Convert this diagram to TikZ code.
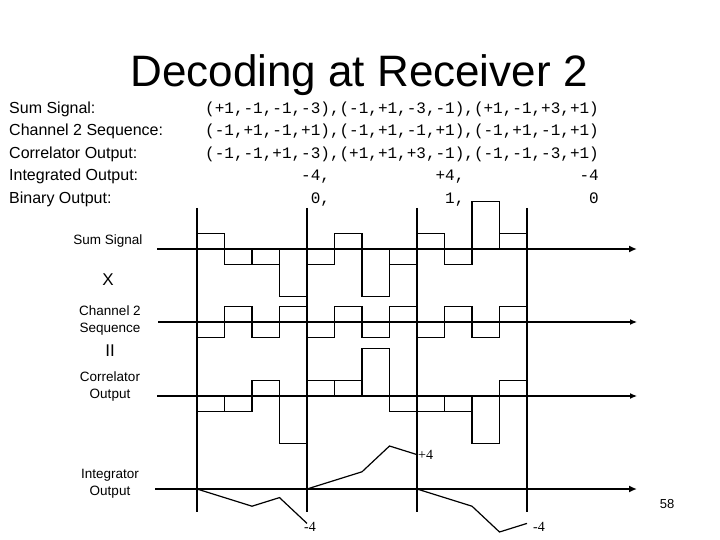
\documentclass[tikz,border=0pt]{standalone}
\usepackage{fontspec}
\setmainfont{Liberation Sans}
\setmonofont{Liberation Mono}
\newfontfamily\numfont{Liberation Serif}
\usepackage{tikz}
\usetikzlibrary{arrows.meta}
\tikzstyle{rowlabel} = [anchor=base west, inner sep=0pt, font=\fontsize{16}{18}\selectfont]
\tikzstyle{rowdata} = [anchor=base west, inner sep=0pt, font=\fontsize{16}{18}\selectfont\ttfamily]
\tikzstyle{sidelabel} = [align=center, inner sep=0pt, font=\fontsize{13.5}{17}\selectfont]
\tikzstyle{opsign} = [anchor=base, inner sep=0pt, font=\fontsize{17}{19}\selectfont]
\tikzstyle{levellabel} = [inner sep=0pt, font=\fontsize{14}{16}\selectfont\numfont]
\tikzstyle{wave} = [line width=1.2pt]
\tikzstyle{axis} = [line width=1.2pt, -{Latex[length=7pt, width=6pt]}]
\tikzstyle{boldaxis} = [line width=2.4pt, -{Latex[length=8pt, width=7pt]}]
\begin{document}
\begin{tikzpicture}[x=1pt, y=-1pt]
    \useasboundingbox (0,0) rectangle (720,540);

    % Title
    \node[anchor=base, inner sep=0pt, font=\fontsize{44}{48}\selectfont] (title) at (359,87) {Decoding at Receiver 2};

    % Table of values
    \node[rowlabel] (sumrow) at (9,113.5) {Sum Signal:};
    \node[rowlabel] (chanrow) at (9,136) {Channel 2 Sequence:};
    \node[rowlabel] (corrrow) at (9,158.5) {Correlator Output:};
    \node[rowlabel] (introw) at (9,181) {Integrated Output:};
    \node[rowlabel] (binrow) at (9,203.5) {Binary Output:};

    \node[rowdata] (sumdata) at (205,113.5) {(+1,-1,-1,-3),(-1,+1,-3,-1),(+1,-1,+3,+1)};
    \node[rowdata] (chandata) at (205,136) {(-1,+1,-1,+1),(-1,+1,-1,+1),(-1,+1,-1,+1)};
    \node[rowdata] (corrdata) at (205,158.5) {(-1,-1,+1,-3),(+1,+1,+3,-1),(-1,-1,-3,+1)};
    \node[rowdata] (intdata) at (205,181) {\hspace*{6em}-4,\hspace*{6.6em}+4,\hspace*{7.2em}-4};
    \node[rowdata] (bindata) at (205,203.5) {\hspace*{6.6em}0,\hspace*{7.2em}1,\hspace*{7.8em}0};

    % Side labels
    \node[sidelabel, anchor=base] (sumlbl) at (108,244) {Sum Signal};
    \node[opsign] (times) at (108,285) {X};
    \node[sidelabel] (chanlbl) at (110,321) {Channel 2\\Sequence};
    \node[opsign] (equals) at (110,356) {II};
    \node[sidelabel] (corrlbl) at (110,387) {Correlator\\Output};
    \node[sidelabel] (intlbl) at (110,484) {Integrator\\Output};

    % Bit boundaries
    \foreach \x in {197,307,417,527}
        \draw[wave] (\x,208) -- (\x,512);

    % Sum signal chips
    \foreach \v [count=\i from 0] in {1,-1,-1,-3,-1,1,-3,-1,1,-1,3,1}
        \draw[wave] ({197+27.5*\i},249) rectangle ++(27.5,{-15.8*\v});

    % Channel 2 sequence chips
    \foreach \v [count=\i from 0] in {-1,1,-1,1,-1,1,-1,1,-1,1,-1,1}
        \draw[wave] ({197+27.5*\i},322) rectangle ++(27.5,{-15.8*\v});

    % Correlator output chips
    \foreach \v [count=\i from 0] in {-1,-1,1,-3,1,1,3,-1,-1,-1,-3,1}
        \draw[wave] ({197+27.5*\i},396) rectangle ++(27.5,{-15.8*\v});

    % Integrator ramps
    \draw[wave] (197,489) \foreach \s [count=\i] in {-1,-2,-1,-4} { -- ({197+27.5*\i},{489-8.6*\s}) };
    \draw[wave] (307,489) \foreach \s [count=\i] in {1,2,5,4} { -- ({307+27.5*\i},{489-8.6*\s}) };
    \draw[wave] (417,489) \foreach \s [count=\i] in {-1,-2,-5,-4} { -- ({417+27.5*\i},{489-8.6*\s}) };

    \node[levellabel, anchor=west] (peak) at (418,455) {+4};
    \node[levellabel] (lowa) at (310,527) {-4};
    \node[levellabel] (lowb) at (539,527) {-4};

    % Axes
    \coordinate (sumstart) at (157,249);
    \coordinate (sumend) at (637,249);
    \coordinate (chanstart) at (158,322);
    \coordinate (chanend) at (637,322);
    \coordinate (corrstart) at (157,396);
    \coordinate (corrend) at (637,396);
    \coordinate (intstart) at (155,489);
    \coordinate (intend) at (637,489);
    \draw[boldaxis] (sumstart) -- (sumend);
    \draw[axis] (chanstart) -- (chanend);
    \draw[axis] (corrstart) -- (corrend);
    \draw[boldaxis] (intstart) -- (intend);

    % Page number
    \node[inner sep=0pt, font=\fontsize{13}{15}\selectfont] (pagenum) at (667,504) {58};
\end{tikzpicture}
\end{document}
